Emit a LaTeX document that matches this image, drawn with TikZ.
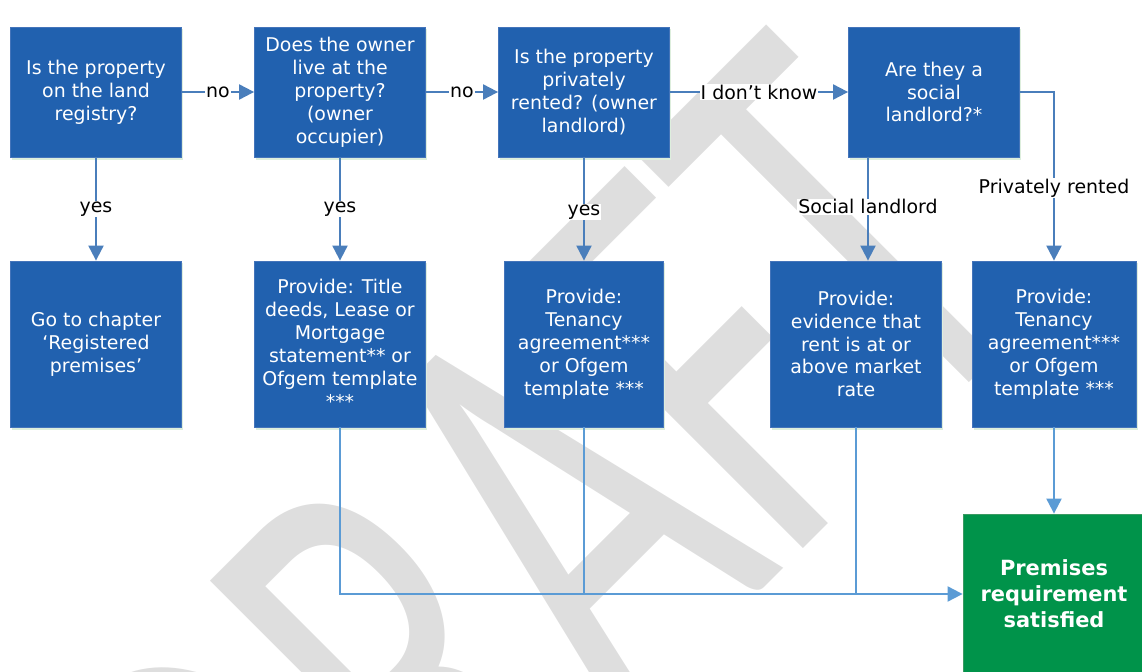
\documentclass[tikz,border=0pt]{standalone}
\usepackage{fontspec}
\usepackage{graphicx}
\setmainfont{DejaVu Sans}
\newfontfamily\wmfont{Carlito}
\usetikzlibrary{arrows.meta,shadows}
\definecolor{boxblue}{HTML}{2161AF}
\definecolor{boxedge}{HTML}{4474BA}
\definecolor{arrowblue}{HTML}{4A7EBB}
\definecolor{lineblue}{HTML}{5B9BD5}
\definecolor{okgreen}{HTML}{00934A}
\definecolor{okedge}{HTML}{3A9A62}
\definecolor{wmgray}{HTML}{DEDEDE}
\definecolor{shadowgreen}{HTML}{DDEEDD}
\begin{document}
\begin{tikzpicture}[x=1bp,y=-1bp,
  boxbase/.style={fill=boxblue, draw=boxedge, line width=0.8bp, text=white,
    font=\fontsize{19}{23}\selectfont, align=center, inner sep=0pt,
    drop shadow={shadow xshift=1.5bp, shadow yshift=-2.5bp, fill=shadowgreen, opacity=1}},
  qbox/.style={boxbase, minimum width=171bp, minimum height=130bp},
  pbox/.style={boxbase, minimum height=166bp},
  goal/.style={fill=okgreen, draw=okedge, line width=0.8bp, text=white,
    font=\bfseries\fontsize{21}{26}\selectfont, align=center, inner sep=0pt,
    minimum width=182bp, minimum height=160bp},
  lbl/.style={fill=white, text=black, font=\fontsize{19}{23}\selectfont, inner sep=1bp},
  arr/.style={draw=arrowblue, line width=2bp, -{Triangle[length=15bp,width=15bp]}},
  joinline/.style={draw=lineblue, line width=2bp},
  arrl/.style={joinline, -{Triangle[length=15bp,width=15bp]}},
  wm/.style={text=wmgray, font=\wmfont\fontsize{100}{100}\selectfont, inner sep=0pt, rotate=45}
]
\useasboundingbox (0,0) rectangle (1142,672);
% watermark
\node[wm] (wmark) at (534,538) {\scalebox{3.98}[6.2]{DRAFT}};

% question boxes
\node[qbox] (b1) at (96,92) {Is the property\\on the land\\registry?};
\node[qbox] (b2) at (340,92) {Does the owner\\live at the\\property?\\(owner\\occupier)};
\node[qbox] (b3) at (584,92) {Is the property\\privately\\rented? (owner\\landlord)};
\node[qbox] (b4) at (934,92) {Are they a\\social\\landlord?*};

% provide boxes
\node[pbox, minimum width=171bp] (p1) at (96,344) {Go to chapter\\‘Registered\\premises’};
\node[pbox, minimum width=171bp] (p2) at (340,344) {Provide: Title\\deeds, Lease or\\Mortgage\\statement** or\\Ofgem template\\***};
\node[pbox, minimum width=159bp] (p3) at (584,344) {Provide:\\Tenancy\\agreement***\\or Ofgem\\template ***};
\node[pbox, minimum width=171bp] (p4) at (856,344) {Provide:\\evidence that\\rent is at or\\above market\\rate};
\node[pbox, minimum width=164bp] (p5) at (1054,344) {Provide:\\Tenancy\\agreement***\\or Ofgem\\template ***};

% goal
\node[goal] (g) at (1054,594) {Premises\\requirement\\satisfied};

% connectors top
\draw[arr] (b1.east) -- node[lbl]{no} (b2.west);
\draw[arr] (b2.east) -- node[lbl]{no} (b3.west);
\draw[arr] (b3.east) -- node[lbl]{I don’t know} (b4.west);
\draw[arr] (b1.south) -- node[lbl, pos=0.5]{yes} (p1.north);
\draw[arr] (b2.south) -- node[lbl, pos=0.5]{yes} (p2.north);
\draw[arr] (b3.south) -- node[lbl, pos=0.53]{yes} (p3.north);
\coordinate (sl) at (868,0);
\draw[arr] (b4.south -| sl) -- node[lbl, pos=0.48]{Social landlord} (p4.north -| sl);
\draw[arr] (b4.east) -| node[lbl, pos=0.785]{Privately rented} (p5.north);

% connectors bottom
\draw[arrl] (p2.south) |- (g.west);
\draw[joinline] (p3.south) -- (p3.south |- g.west);
\draw[joinline] (p4.south) -- (p4.south |- g.west);
\draw[arrl] (p5.south) -- (g.north);
\end{tikzpicture}
\end{document}
